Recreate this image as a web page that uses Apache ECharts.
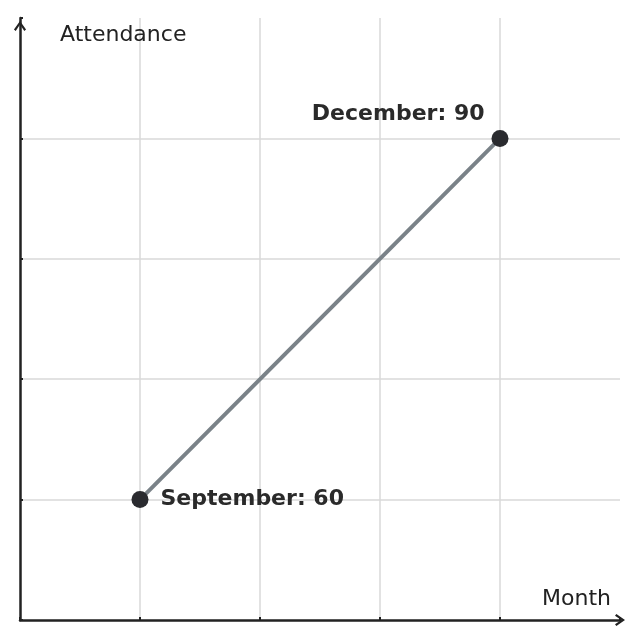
<!DOCTYPE html>
<html>
<head>
<meta charset="utf-8">
<script src="https://cdn.jsdelivr.net/npm/echarts@6/dist/echarts.min.js"></script>
<style>html,body{margin:0;padding:0;background:#fff}#c{width:640px;height:640px}</style>
</head>
<body>
<div id="c"></div>
<script>
const months = ['September', 'December'];
const monthPos = [1, 4];
const attendance = [60, 90];
const xName = 'Month';
const yName = 'Attendance';

const chevron = 'path://M0,10 L7,0 L14,10 L12,11.6 L7,4.2 L2,11.6 Z';
const labelPos = [
  { position: 'right', distance: 12, offset: [0, 0] },
  { position: 'left', distance: 7, offset: [0, -24] }
];

const data = months.map((m, i) => ({
  value: [monthPos[i], attendance[i]],
  name: m,
  label: Object.assign({ show: true }, labelPos[i])
}));

const chart = echarts.init(document.getElementById('c'), null, { renderer: 'canvas' });
chart.setOption({
  animation: false,
  grid: { left: 20, right: 20, top: 18, bottom: 20, containLabel: false },
  xAxis: {
    type: 'value', min: 0, max: 5, interval: 1,
    name: xName, nameLocation: 'end', nameGap: -9,
    nameTextStyle: { fontFamily: 'DejaVu Sans', fontSize: 22, color: '#222', align: 'right', verticalAlign: 'bottom', padding: [0, 0, 10, 0] },
    axisLine: { show: true, lineStyle: { color: '#222', width: 2.5 }, symbol: ['none', chevron], symbolSize: [13, 10], symbolOffset: [0, 0] },
    axisTick: { show: true, inside: true, length: 3, lineStyle: { color: '#222', width: 2 } },
    axisLabel: { show: false },
    splitLine: { show: true, showMinLine: false, showMaxLine: false, lineStyle: { color: '#d9d9d9', width: 1.5 } }
  },
  yAxis: {
    type: 'value', min: 50, max: 100, interval: 10,
    name: yName, nameLocation: 'end', nameGap: -28,
    nameTextStyle: { fontFamily: 'DejaVu Sans', fontSize: 22, color: '#222', align: 'left', verticalAlign: 'bottom', padding: [0, 0, 0, 40] },
    axisLine: { show: true, lineStyle: { color: '#222', width: 2.5 }, symbol: ['none', chevron], symbolSize: [13, 10], symbolOffset: [0, -8] },
    axisTick: { show: true, inside: true, length: 3, lineStyle: { color: '#222', width: 2 } },
    axisLabel: { show: false },
    splitLine: { show: true, showMinLine: false, showMaxLine: false, lineStyle: { color: '#d9d9d9', width: 1.5 } }
  },
  series: [{
    type: 'line',
    data: data,
    symbol: 'circle',
    symbolSize: 17,
    lineStyle: { color: '#7a8288', width: 4 },
    itemStyle: { color: '#2a2b2f' },
    label: {
      show: true,
      fontFamily: 'DejaVu Sans', fontSize: 22, fontWeight: 'bold', color: '#2a2a2a',
      formatter: p => p.name + ': ' + p.value[1]
    },
    z: 3
  }]
});
</script>
</body>
</html>
